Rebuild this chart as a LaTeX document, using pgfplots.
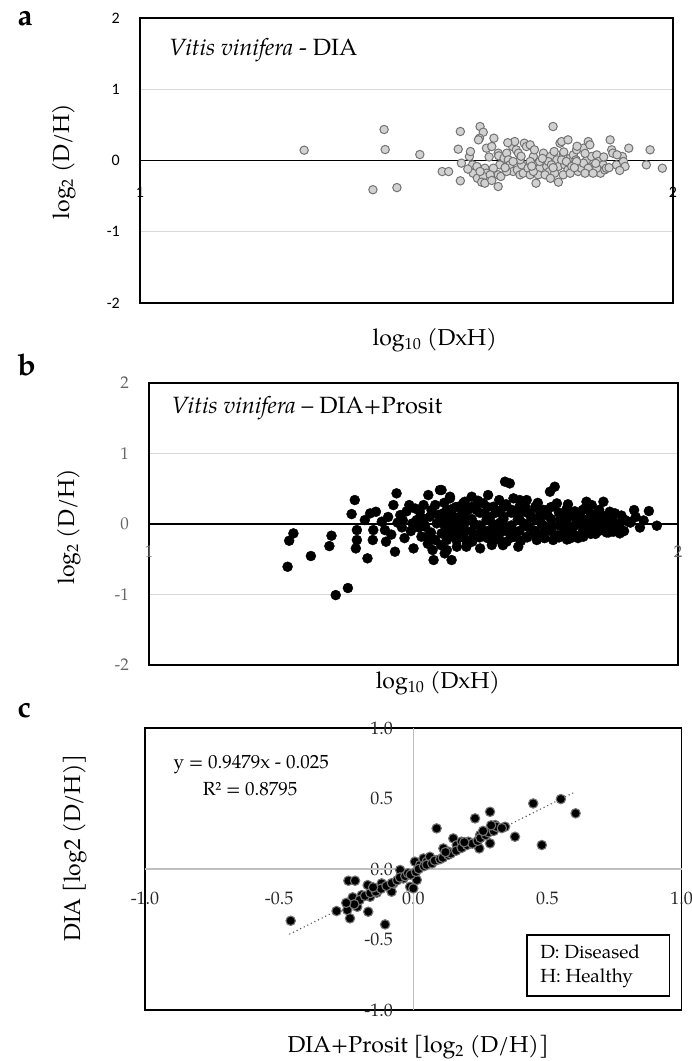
\documentclass[border=0pt]{standalone}
\usepackage{fontspec}
\setmainfont{TeX Gyre Pagella}
\newfontfamily\carlito{Carlito}
\usepackage{pgfplots}
\usepackage{pgfplotstable}
\pgfplotsset{compat=1.18}

% panel a: Vitis vinifera - DIA
\pgfplotstableread{
x y
1.308 0.145
1.458 0.435
1.460 0.154
1.525 0.084
1.437 -0.410
1.482 -0.380
1.567 -0.155
1.579 -0.155
1.601 0.407
1.597 0.159
1.603 -0.037
1.601 -0.285
1.618 0.056
1.620 0.126
1.624 -0.061
1.625 -0.178
1.633 -0.248
1.638 0.477
1.644 0.397
1.637 0.313
1.635 0.290
1.650 0.173
1.647 -0.108
1.650 -0.178
1.644 -0.224
1.641 -0.304
1.647 -0.318
1.660 0.196
1.664 0.313
1.672 0.103
1.673 0.066
1.675 -0.061
1.672 -0.201
1.677 -0.224
1.672 -0.365
1.683 0.033
1.688 0.103
1.691 0.009
1.694 -0.061
1.699 0.196
1.703 0.266
1.706 0.150
1.710 0.103
1.700 -0.154
1.708 -0.131
1.713 -0.201
1.721 0.243
1.725 0.196
1.732 0.220
1.716 -0.061
1.719 -0.178
1.728 -0.108
1.732 -0.201
1.738 0.056
1.744 -0.061
1.743 -0.318
1.750 -0.108
1.747 -0.201
1.757 0.103
1.760 0.009
1.763 -0.084
1.768 -0.154
1.770 0.056
1.775 0.477
1.777 0.126
1.782 0.009
1.785 -0.084
1.788 0.243
1.785 -0.304
1.791 0.266
1.794 0.079
1.797 -0.061
1.803 0.290
1.803 -0.131
1.807 0.033
1.813 0.079
1.818 0.009
1.819 0.150
1.822 -0.154
1.828 -0.108
1.832 0.173
1.838 0.009
1.841 0.266
1.844 0.220
1.847 0.056
1.850 -0.084
1.857 0.079
1.860 -0.014
1.864 -0.178
1.869 -0.061
1.872 -0.131
1.875 -0.108
1.882 0.290
1.885 0.150
1.887 0.103
1.894 -0.061
1.905 0.056
1.907 -0.014
1.910 -0.084
1.917 0.173
1.950 -0.061
1.957 0.150
1.980 -0.108
1.750 -0.014
1.766 -0.014
1.772 -0.061
1.791 0.009
1.800 -0.014
1.810 -0.084
1.832 -0.037
1.841 -0.108
1.857 -0.108
1.819 -0.014
1.732 -0.014
1.713 0.009
1.700 -0.014
1.688 -0.154
1.663 -0.108
1.657 -0.201
1.632 -0.084
1.638 -0.154
1.738 -0.154
1.760 -0.201
1.778 -0.178
1.794 -0.201
1.807 -0.178
1.835 -0.178
1.850 -0.178
1.615 -0.120
1.655 0.050
1.685 -0.100
1.715 0.060
1.735 -0.080
1.755 0.030
1.775 -0.100
1.795 0.120
1.815 -0.100
1.835 0.100
1.855 -0.040
1.870 0.050
1.880 -0.100
1.895 0.080
1.900 -0.140
1.660 -0.280
1.690 0.250
1.740 0.150
1.820 0.200
1.770 -0.250
}\dataA

% panel b: Vitis vinifera - DIA+Prosit
\pgfplotstableread{
x y
1.262 -0.606
1.265 -0.237
1.273 -0.133
1.306 -0.454
1.341 -0.313
1.345 -0.166
1.353 -1.008
1.376 -0.908
1.389 0.340
1.383 0.141
1.393 -0.086
1.393 -0.227
1.391 -0.346
1.413 -0.487
1.408 0.056
1.418 0.151
1.429 0.174
1.424 -0.086
1.423 -0.227
1.440 0.033
1.446 -0.086
1.448 -0.251
1.462 0.269
1.468 0.435
1.475 0.127
1.478 -0.048
1.465 -0.393
1.492 0.269
1.498 0.009
1.500 -0.346
1.512 0.174
1.519 0.269
1.528 0.411
1.522 -0.038
1.525 -0.180
1.536 -0.369
1.538 -0.511
1.541 0.269
1.550 0.482
1.556 0.151
1.560 -0.038
1.563 -0.227
1.569 0.387
1.572 -0.511
1.575 0.104
1.582 -0.133
1.594 0.293
1.594 0.009
1.601 -0.275
1.506 0.056
1.531 0.104
1.544 0.009
1.553 -0.133
1.569 -0.038
1.588 0.104
1.515 -0.180
1.541 -0.227
1.563 -0.369
1.582 -0.322
1.534 0.198
1.585 0.245
1.553 0.482
1.569 0.364
1.563 0.198
1.559 -0.417
1.597 0.316
1.610 0.387
1.641 0.411
1.662 0.340
1.673 0.600
1.682 0.576
1.689 0.364
1.701 0.340
1.714 0.340
1.733 0.269
1.758 0.458
1.767 0.529
1.771 0.293
1.799 0.151
1.827 0.316
1.837 0.269
1.859 0.316
1.871 0.174
1.881 0.151
1.900 0.056
1.906 0.033
1.917 0.198
1.945 0.184
1.960 -0.024
1.890 -0.133
1.878 -0.109
1.865 -0.086
1.821 -0.180
1.796 -0.204
1.764 -0.227
1.733 -0.227
1.698 -0.322
1.676 -0.251
1.648 -0.298
1.626 -0.346
1.600 -0.322
1.581 -0.227
1.556 0.009
1.575 0.104
1.588 -0.086
1.607 0.056
1.619 0.198
1.626 -0.133
1.638 0.056
1.651 0.245
1.657 -0.038
1.670 0.104
1.682 -0.133
1.695 0.151
1.708 0.009
1.720 0.151
1.726 -0.086
1.739 0.056
1.752 0.198
1.758 -0.086
1.777 0.056
1.783 -0.133
1.789 0.198
1.802 -0.038
1.815 0.104
1.821 -0.015
1.834 0.056
1.846 0.009
1.852 0.127
1.865 0.033
1.878 -0.015
1.890 0.009
1.613 -0.180
1.663 -0.227
1.714 -0.180
1.745 -0.133
1.588 0.245
1.632 0.293
1.708 0.245
1.739 0.174
1.808 0.056
1.840 -0.086
1.452 0.10
1.458 -0.15
1.470 0.02
1.483 -0.20
1.487 0.18
1.495 -0.10
1.503 0.22
1.510 -0.05
1.518 0.08
1.527 -0.28
1.533 -0.12
1.547 0.13
1.552 -0.30
1.558 0.30
1.566 -0.16
1.572 0.21
1.579 0.02
1.585 -0.20
1.592 0.14
1.596 -0.10
1.603 0.20
1.611 -0.25
1.615 0.00
1.622 0.33
1.628 -0.05
1.634 0.15
1.640 -0.20
1.645 0.10
1.652 -0.12
1.658 0.18
1.664 0.02
1.669 -0.30
1.675 0.28
1.679 -0.06
1.686 0.20
1.691 -0.18
1.697 0.06
1.703 -0.24
1.711 0.25
1.716 -0.04
1.722 0.10
1.729 -0.14
1.735 0.30
1.742 0.00
1.748 -0.20
1.754 0.12
1.761 -0.03
1.766 0.25
1.772 -0.16
1.779 0.10
1.786 -0.06
1.792 0.28
1.798 -0.12
1.805 0.18
1.811 -0.20
1.818 0.02
1.824 0.22
1.831 -0.10
1.838 0.12
1.844 -0.14
1.851 0.20
1.857 -0.04
1.863 0.10
1.869 -0.12
1.876 0.06
1.884 -0.05
1.893 0.12
1.898 -0.10
1.910 0.02
1.920 0.10
1.928 -0.05
1.935 0.05
1.615 0.25
1.660 -0.20
1.700 0.15
1.745 0.20
1.790 -0.22
1.830 0.25
1.480 0.05
1.520 0.00
1.560 0.05
1.600 0.08
1.650 0.00
1.690 -0.10
1.565 -0.19
1.565 -0.02
1.565 0.16
1.580 -0.10
1.580 0.07
1.580 0.24
1.595 -0.19
1.595 -0.02
1.595 0.16
1.610 -0.10
1.610 0.07
1.610 0.24
1.625 -0.19
1.625 -0.02
1.625 0.16
1.640 -0.10
1.640 0.07
1.640 0.24
1.655 -0.19
1.655 -0.02
1.655 0.16
1.670 -0.10
1.670 0.07
1.670 0.24
1.685 -0.19
1.685 -0.02
1.685 0.16
1.700 -0.10
1.700 0.07
1.700 0.24
1.715 -0.19
1.715 -0.02
1.715 0.16
1.730 -0.10
1.730 0.07
1.730 0.24
1.745 -0.19
1.745 -0.02
1.745 0.16
1.760 -0.10
1.760 0.07
1.760 0.24
1.775 -0.19
1.775 -0.02
1.775 0.16
1.790 -0.10
1.790 0.07
1.790 0.22
1.805 -0.16
1.805 -0.02
1.805 0.14
1.820 -0.10
1.820 0.07
1.820 0.20
1.835 -0.14
1.835 -0.02
1.835 0.14
1.850 -0.10
1.850 0.07
1.850 0.18
1.865 -0.12
1.865 -0.02
1.865 0.12
}\dataB

% panel c: DIA vs DIA+Prosit
\pgfplotstableread{
x y
-0.457 -0.367
-0.286 -0.298
-0.246 -0.291
-0.236 -0.350
-0.209 -0.268
-0.168 -0.303
-0.105 -0.393
-0.242 -0.083
-0.217 -0.083
-0.226 -0.201
-0.192 -0.185
-0.170 -0.114
-0.161 -0.197
-0.136 -0.168
-0.118 -0.102
-0.081 -0.161
-0.074 -0.102
-0.049 -0.007
-0.037 -0.067
-0.025 -0.043
-0.012 -0.126
0.000 -0.137
0.013 -0.078
0.006 0.052
0.025 0.028
0.038 0.075
0.050 0.052
0.062 0.087
0.087 0.288
0.087 0.063
0.112 0.146
0.131 0.123
0.149 0.217
0.162 0.170
0.180 0.194
0.205 0.194
0.230 0.359
0.246 0.146
0.249 0.241
0.267 0.264
0.286 0.406
0.286 0.182
0.305 0.312
0.342 0.300
0.379 0.229
0.447 0.465
0.479 0.170
0.550 0.496
0.605 0.395
-0.20 -0.22
-0.18 -0.19
-0.16 -0.17
-0.14 -0.16
-0.12 -0.14
-0.10 -0.12
-0.08 -0.10
-0.06 -0.08
-0.05 -0.06
-0.03 -0.05
-0.02 -0.03
-0.01 -0.04
0.01 -0.02
0.02 0.00
0.04 0.02
0.05 0.03
0.07 0.04
0.08 0.06
0.10 0.07
0.11 0.08
0.13 0.10
0.14 0.11
0.16 0.13
0.18 0.15
0.20 0.17
0.22 0.18
0.24 0.20
0.25 0.22
0.27 0.24
0.28 0.26
0.30 0.27
0.31 0.30
0.33 0.29
-0.22 -0.25
-0.25 -0.24
-0.15 -0.13
0.12 0.12
0.19 0.19
0.26 0.27
0.29 0.31
}\dataC

\pgfplotsset{
  panel/.style={
    scale only axis, anchor=south west,
    major tick length=0pt,
    axis line style={black, line width=1.3pt},
    /pgf/number format/assume math mode=true,
    label style={font=\fontsize{23}{23}\selectfont},
  },
}

\begin{document}
\begin{tikzpicture}
\path[use as bounding box] (0pt,0pt) rectangle (692pt,-1061pt);

% ---------- a ----------
\begin{axis}[panel,
  at={(140pt,-303pt)}, width=533pt, height=285pt,
  xmin=1, xmax=2, ymin=-2, ymax=2,
  xtick={1,2}, ytick={-2,-1,0,1,2},
  ymajorgrids, major grid style={draw=black!15, line width=1.2pt},
  extra y ticks={0}, extra y tick labels={},
  extra y tick style={grid=major, major grid style={draw=black, line width=1.3pt}},
  tick label style={font=\carlito\fontsize{16}{16}\selectfont},
  xticklabel style={anchor=center, yshift=111pt},
  yticklabel style={anchor=east, inner sep=0pt, xshift=-20pt},
  xlabel={log\textsubscript{10} (DxH)},
  xlabel style={at={(axis description cs:0.553,0)}, anchor=center, yshift=-37pt},
  ylabel={log\textsubscript{2} (D/H)},
  ylabel style={at={(axis description cs:-0.143,0.497)}, anchor=center},
]
\addplot[only marks, mark=*, mark size=4.2pt,
  mark options={fill=black!18, draw=black!55, line width=1pt}] table {\dataA};
\node[anchor=west, font=\fontsize{23.5}{23.5}\selectfont]
  at (rel axis cs:0.048,0.888) {\textit{Vitis vinifera} - DIA};
\end{axis}

% ---------- b ----------
\begin{axis}[panel,
  at={(149pt,-665pt)}, width=529pt, height=282pt,
  xmin=1, xmax=2, ymin=-2, ymax=2,
  xtick={1,2}, ytick={-2,-1,0,1,2},
  ymajorgrids, major grid style={draw=black!15, line width=1.2pt},
  extra y ticks={0}, extra y tick labels={},
  extra y tick style={grid=major, major grid style={draw=black, line width=1.3pt}},
  tick label style={font=\fontsize{17}{17}\selectfont, text=black!60},
  xticklabel style={anchor=center, yshift=113pt},
  yticklabel style={anchor=east, inner sep=0pt, xshift=-20pt},
  xlabel={log\textsubscript{10} (DxH)},
  xlabel style={at={(axis description cs:0.546,0)}, anchor=center, yshift=-18pt},
  ylabel={log\textsubscript{2} (D/H)},
  ylabel style={at={(axis description cs:-0.151,0.49)}, anchor=center},
]
\addplot[only marks, mark=*, mark size=5pt,
  mark options={fill=black, draw=black}] table {\dataB};
\node[anchor=west, font=\fontsize{23.5}{23.5}\selectfont]
  at (rel axis cs:0.036,0.911) {\textit{Vitis vinifera} – DIA+Prosit};
\end{axis}

% ---------- c ----------
\begin{axis}[panel,
  at={(145pt,-1010pt)}, width=536.6pt, height=282pt,
  xmin=-1, xmax=1, ymin=-1, ymax=1,
  xtick={-1,-0.5,0,0.5,1}, ytick={-1,-0.5,0,0.5,1},
  /pgf/number format/fixed, /pgf/number format/fixed zerofill,
  /pgf/number format/precision=1,
  extra x ticks={0}, extra x tick labels={},
  extra y ticks={0}, extra y tick labels={},
  extra tick style={grid=major, major grid style={draw=black!25, line width=1.3pt}},
  tick label style={font=\fontsize{18}{18}\selectfont, text=black!85},
  xticklabel style={anchor=center, yshift=112pt},
  yticklabel style={anchor=east, inner sep=0pt, xshift=248pt},
  xlabel={DIA+Prosit [log\textsubscript{2} (D/H)]},
  xlabel style={at={(axis description cs:0.509,0)}, anchor=center, yshift=-37pt},
  ylabel={DIA [log2 (D/H)]},
  ylabel style={at={(axis description cs:-0.130,0.574)}, anchor=center},
]
\addplot[black!65, line width=1.6pt, line cap=round, dash pattern=on 0pt off 4pt]
  coordinates {(-0.46,-0.461) (0.60,0.544)};
\addplot[only marks, mark=*, mark size=4.7pt,
  mark options={fill=black, draw=black!55, line width=1.1pt}] table {\dataC};
\node[font=\fontsize{19}{19}\selectfont] at (rel axis cs:0.198,0.872) {y = 0.9479x - 0.025};
\node[font=\fontsize{19}{19}\selectfont] at (rel axis cs:0.196,0.784) {R² = 0.8795};
\draw[black, line width=1.2pt, fill=white] (rel axis cs:0.712,0.05) rectangle (rel axis cs:0.978,0.266);
\node[anchor=west, font=\fontsize{19}{19}\selectfont] at (rel axis cs:0.73,0.206) {D: Diseased};
\node[anchor=west, font=\fontsize{19}{19}\selectfont] at (rel axis cs:0.73,0.113) {H: Healthy};
\end{axis}

% panel letters
\node[anchor=base west, font=\fontsize{30}{30}\selectfont\bfseries] at (14pt,-25pt) {a};
\node[anchor=base west, font=\fontsize{30}{30}\selectfont\bfseries] at (14pt,-375pt) {b};
\node[anchor=base west, font=\fontsize{30}{30}\selectfont\bfseries] at (14pt,-717pt) {c};
\end{tikzpicture}
\end{document}
